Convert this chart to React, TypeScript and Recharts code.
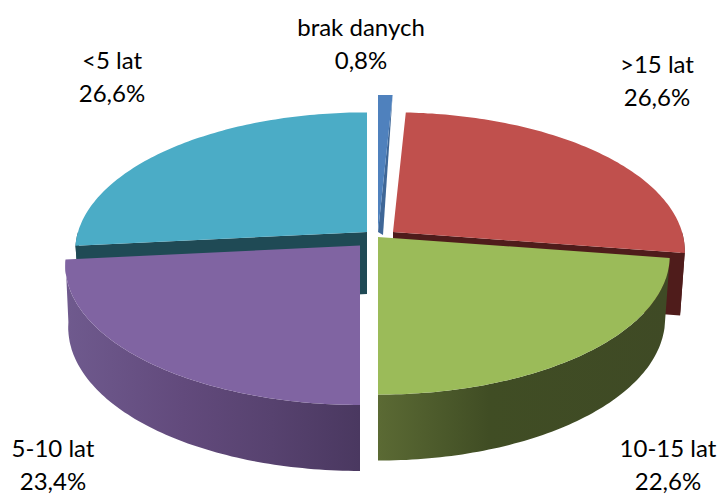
import { PieChart, Pie } from 'recharts';

const NAMES = ['brak danych', '>15 lat', '10-15 lat', '5-10 lat', '<5 lat'];
const VALUES = [0.8, 26.6, 22.6, 23.4, 26.6];
const data = NAMES.map((name, i) => ({ name, value: VALUES[i] }));

const CX = 375;
const CY = 235;
const R = 289;
const FLAT = 136 / 289;
const PERSPECTIVE = 0.137;
const DEPTH = 62;

// screen look of each slice: explosion offset, colours and which layer it is painted in
const LOOK: Record<string, any> = {
  'brak danych': { dx: 3, dy: -3, scale: 1.17, taper: 0.984, top: '#4f81bd', wall: '#3f6797', back: true },
  '>15 lat': { dx: 18, dy: -3, scale: 1, taper: 0.984, top: '#c0504d', wall: '#4f1c1b', back: true },
  '10-15 lat': { dx: 3, dy: 2, scale: 1, taper: 0.984, top: '#9bbb59', stops: [['0%', '#5b6a34'], ['38%', '#404d24'], ['100%', '#3f4a25']] },
  '5-10 lat': { dx: -15, dy: 10.5, scale: 1.01, taper: 0.99, top: '#8064a2', stops: [['0%', '#6f5a8e'], ['40%', '#624a7c'], ['70%', '#57426f'], ['100%', '#4a3860']] },
  '<5 lat': { dx: -8, dy: -3, scale: 1, taper: 0.984, top: '#4bacc6', wall: '#1f4a55', back: true },
};

const LABEL_POS: Record<string, [number, number]> = {
  'brak danych': [361, 28],
  '>15 lat': [657, 65],
  '10-15 lat': [668, 449],
  '5-10 lat': [53, 449],
  '<5 lat': [112, 61],
};

function project(theta: number, r: number) {
  const rad = (theta * Math.PI) / 180;
  const gx = Math.sin(rad) * r;
  const gy = -Math.cos(rad) * r;
  const s = 1 / (1 - PERSPECTIVE * gy);
  return { x: gx * R * s, y: FLAT * R * gy * s, gy };
}

const lowerBy = (taper: number) => (p: { x: number; y: number; gy: number }) => ({
  x: p.x * taper,
  y: p.y + DEPTH + 4 * p.gy,
  gy: p.gy,
});

const toPath = (pts: { x: number; y: number }[]) =>
  'M' + pts.map((p) => `${p.x.toFixed(1)},${p.y.toFixed(1)}`).join('L') + 'Z';

function sampleArc(from: number, to: number, r: number) {
  const out = [];
  const steps = Math.max(2, Math.ceil(Math.abs(to - from)));
  for (let i = 0; i <= steps; i++) out.push(project(from + ((to - from) * i) / steps, r));
  return out;
}

function slice3d(pass: 'back' | 'front') {
  return (props: any) => {
    const look = LOOK[props.name];
    if (!look || !!look.back !== (pass === 'back')) return <g />;
    const from = 90 - props.startAngle;
    const to = 90 - props.endAngle;
    const r = look.scale;
    const ox = props.cx + look.dx;
    const oy = props.cy + look.dy;
    const lower = lowerBy(look.taper);
    const apex = { x: 0, y: 0, gy: 0 };
    const arc = sampleArc(from, to, r);
    const parts: any[] = [];
    const gradId = 'wall-' + props.name.replace(/[^a-z0-9]/g, '');

    // outer wall, only the stretch that faces the viewer
    const a = Math.max(from, 90);
    const b = Math.min(to, 270);
    if (b > a && props.name !== 'brak danych') {
      const rim = sampleArc(a, b, r);
      const d = toPath([...rim, ...rim.map(lower).reverse()]);
      parts.push(<path key="outer" d={d} fill={look.stops ? `url(#${gradId})` : look.wall} />);
    }

    // cut faces that can be seen from the front
    if (props.name === '>15 lat') {
      const e = project(to, r);
      parts.push(<path key="cut" d={toPath([apex, e, lower(e), lower(apex)])} fill={look.wall} />);
    }
    if (props.name === '<5 lat') {
      const e = project(from, r);
      parts.push(<path key="cut" d={toPath([apex, e, lower(e), lower(apex)])} fill={look.wall} />);
    }
    if (props.name === 'brak danych') {
      const e = project(to, r);
      parts.push(<path key="cut" d={toPath([apex, e, { x: 5, y: 3 }])} fill={look.wall} />);
    }

    parts.push(<path key="top" d={toPath([apex, ...arc])} fill={look.top} />);

    return (
      <g transform={`translate(${ox},${oy})`}>
        {look.stops && (
          <defs>
            <linearGradient id={gradId} x1="0" x2="1" y1="0" y2="0">
              {look.stops.map(([o, c]: string[]) => (
                <stop key={o} offset={o} stopColor={c} />
              ))}
            </linearGradient>
          </defs>
        )}
        {parts}
      </g>
    );
  };
}

function renderLabel(props: any) {
  const [x, y] = LABEL_POS[props.name];
  const pct = props.value.toFixed(1).replace('.', ',') + '%';
  return (
    <text x={x} y={y} textAnchor="middle" fontFamily="Lato" fontSize={24} fill="#000">
      <tspan x={x} dy={8}>{props.name}</tspan>
      <tspan x={x} dy={33}>{pct}</tspan>
    </text>
  );
}

export default function App() {
  return (
    <div style={{ position: 'absolute', left: 0, top: 0, width: 720, height: 495, background: '#fff' }}>
      <PieChart width={720} height={495} margin={{ top: 0, right: 0, bottom: 0, left: 0 }}>
        <Pie
          data={data}
          dataKey="value"
          nameKey="name"
          cx={CX}
          cy={CY}
          outerRadius={R}
          startAngle={90}
          endAngle={-270}
          stroke="none"
          shape={slice3d('back')}
          isAnimationActive={false}
        />
        <Pie
          data={data}
          dataKey="value"
          nameKey="name"
          cx={CX}
          cy={CY}
          outerRadius={R}
          startAngle={90}
          endAngle={-270}
          stroke="none"
          shape={slice3d('front')}
          label={renderLabel}
          labelLine={false}
          isAnimationActive={false}
        />
      </PieChart>
    </div>
  );
}
